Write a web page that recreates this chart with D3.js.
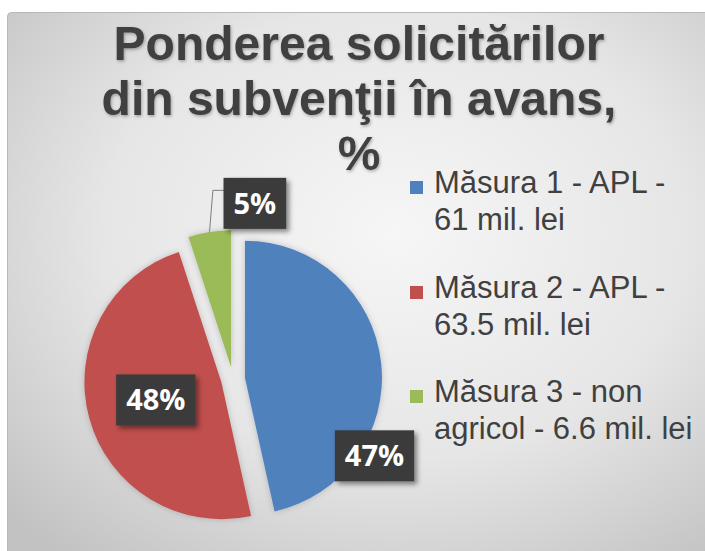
<!DOCTYPE html>
<html>
<head>
<meta charset="utf-8">
<script src="https://cdn.jsdelivr.net/npm/d3@7"></script>
<style>
  html, body { margin: 0; padding: 0; background: #ffffff; }
  svg { display: block; }
</style>
</head>
<body>
<div id="chart"></div>
<script>
// ---- data ----
const titleLines = ["Ponderea solicitărilor", "din subvenţii în avans,", "%"];
const categories = ["Măsura 1 - APL - 61 mil. lei", "Măsura 2 - APL - 63.5 mil. lei", "Măsura 3 - non agricol - 6.6 mil. lei"];
const legendLines = [["Măsura 1 - APL -", "61 mil. lei"], ["Măsura 2 - APL -", "63.5 mil. lei"], ["Măsura 3 - non", "agricol - 6.6 mil. lei"]];
const values = [61, 63.5, 6.6];
const colors = ["#4f81bd", "#c0504d", "#9bbb59"];

// ---- layout ----
const W = 705, H = 551;
const cx = 233, cy = 379, R = 137, explode = 12;
const labelPlacement = [{ angle: 118.5, dist: 161 }, { angle: 254.8, dist: 80 }, { angle: 7.1, dist: 177 }];

const svg = d3.select("#chart").append("svg").attr("width", W).attr("height", H);
const defs = svg.append("defs");

const grad = defs.append("radialGradient").attr("id", "bg")
  .attr("cx", "55%").attr("cy", "40%").attr("r", "75%");
grad.append("stop").attr("offset", "0%").attr("stop-color", "#f6f6f6");
grad.append("stop").attr("offset", "55%").attr("stop-color", "#e6e6e6");
grad.append("stop").attr("offset", "100%").attr("stop-color", "#c2c2c2");

const sh = defs.append("filter").attr("id", "shadow").attr("x", "-30%").attr("y", "-30%").attr("width", "160%").attr("height", "160%");
sh.append("feDropShadow").attr("dx", 3).attr("dy", 3).attr("stdDeviation", 2.5).attr("flood-color", "#000").attr("flood-opacity", 0.45);

const tsh = defs.append("filter").attr("id", "tshadow").attr("x", "-10%").attr("y", "-20%").attr("width", "120%").attr("height", "140%");
tsh.append("feDropShadow").attr("dx", 1).attr("dy", 1.5).attr("stdDeviation", 1.5).attr("flood-color", "#000").attr("flood-opacity", 0.3);

const psh = defs.append("filter").attr("id", "pshadow").attr("x", "-20%").attr("y", "-20%").attr("width", "140%").attr("height", "140%");
psh.append("feDropShadow").attr("dx", 0).attr("dy", 0).attr("stdDeviation", 3).attr("flood-color", "#000").attr("flood-opacity", 0.2);

// background
svg.append("rect").attr("x", 0).attr("y", 0).attr("width", W).attr("height", H).attr("fill", "#ffffff");
svg.append("rect").attr("x", 7.5).attr("y", 12.5).attr("width", W).attr("height", H)
  .attr("rx", 4).attr("fill", "url(#bg)").attr("stroke", "#b8b8b8").attr("stroke-width", 1);

// title
const title = svg.append("text").attr("text-anchor", "middle")
  .attr("font-family", "Liberation Sans, Arial, sans-serif").attr("font-weight", "bold")
  .attr("font-size", 48).attr("fill", "#404040").attr("filter", "url(#tshadow)");
titleLines.forEach((t, i) => {
  title.append("tspan").attr("x", 359).attr("y", 60 + i * 55).text(t);
});

// pie
const total = d3.sum(values);
const pie = d3.pie().sort(null).value(d => d)(values);
const arc = d3.arc().innerRadius(0).outerRadius(R);
const toXY = (angDeg, dist) => {
  const a = angDeg * Math.PI / 180;
  return [dist * Math.sin(a), -dist * Math.cos(a)];
};

const pg = svg.append("g").attr("transform", `translate(${cx},${cy})`);
pg.selectAll("path").data(pie).join("path")
  .attr("d", arc)
  .attr("fill", (d, i) => colors[i])
  .attr("filter", "url(#pshadow)")
  .attr("transform", d => {
    const mid = (d.startAngle + d.endAngle) / 2;
    return `translate(${explode * Math.sin(mid)},${-explode * Math.cos(mid)})`;
  });

// leader line for small slice
{
  const d = pie[2];
  const mid = (d.startAngle + d.endAngle) / 2;
  const ox = explode * Math.sin(mid), oy = -explode * Math.cos(mid);
  const ex = ox + R * Math.sin(mid), ey = oy - R * Math.cos(mid);
  const [lx, ly] = toXY(labelPlacement[2].angle, labelPlacement[2].dist);
  const boxLeft = lx - 30, lineY = ly - 13;
  pg.append("polyline")
    .attr("points", `${boxLeft},${lineY} ${boxLeft - 12},${lineY} ${ex},${ey}`)
    .attr("fill", "none").attr("stroke", "#7f7f7f").attr("stroke-width", 1);
}

// data labels
pie.forEach((d, i) => {
  const pct = Math.round(d.value / total * 100) + "%";
  const [lx, ly] = toXY(labelPlacement[i].angle, labelPlacement[i].dist);
  const g = pg.append("g").attr("transform", `translate(${lx},${ly})`);
  const rect = g.append("rect").attr("fill", "#3a3a3a").attr("filter", "url(#shadow)");
  const t = g.append("text").attr("text-anchor", "middle").attr("dy", "0.36em")
    .attr("font-family", "Open Sans, Liberation Sans, sans-serif").attr("font-weight", "bold")
    .attr("font-size", 29).attr("fill", "#ffffff").text(pct);
  const bb = t.node().getBBox();
  const bw = bb.width + 20, bh = 51;
  rect.attr("x", -bw / 2).attr("y", -bh / 2).attr("width", bw).attr("height", bh);
});

// legend
const lg = svg.append("g").attr("font-family", "Liberation Sans, Arial, sans-serif")
  .attr("font-size", 31).attr("fill", "#404040");
const rowY = [193, 298, 402];
legendLines.forEach((lines, i) => {
  lg.append("rect").attr("x", 410).attr("y", rowY[i] - 12).attr("width", 13).attr("height", 13).attr("fill", colors[i]);
  const t = lg.append("text");
  lines.forEach((l, j) => t.append("tspan").attr("x", 434).attr("y", rowY[i] + j * 37).text(l));
});
</script>
</body>
</html>
